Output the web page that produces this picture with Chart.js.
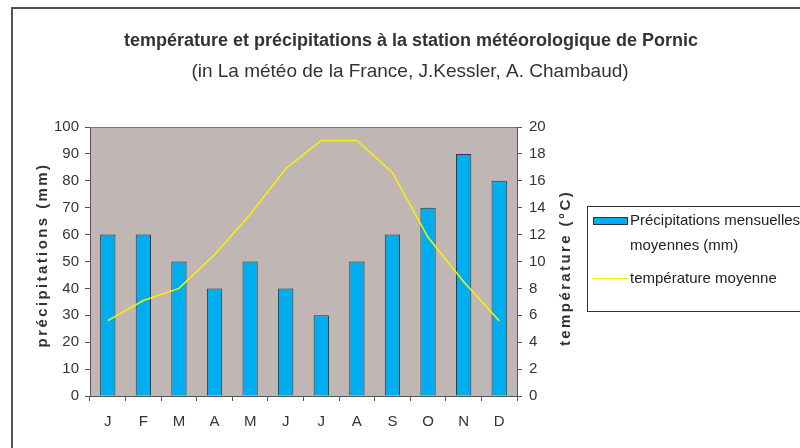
<!DOCTYPE html>
<html>
<head>
<meta charset="utf-8">
<script src="https://cdn.jsdelivr.net/npm/chart.js@4.4.0/dist/chart.umd.min.js"></script>
<style>
  body { margin: 0; background: #fff; }
  #wrap { position: relative; width: 800px; height: 448px; }
  #legend {
    position: absolute; left: 587px; top: 206px; width: 230px; height: 106px;
    border: 1px solid #333; box-sizing: border-box;
    font-family: "Liberation Sans Narrow", "Liberation Sans", Arial, sans-serif;
    font-size: 15px; color: #222;
  }
  .row { position: absolute; left: 42px; line-height: 24px; }
  .swatch { position: absolute; }
</style>
</head>
<body>
<div id="wrap">
  <canvas id="myChart" width="800" height="448"></canvas>
  <div id="legend">
    <div class="swatch" style="left:5px;top:10px;width:33px;height:6px;background:#00aeef;border:1px solid #333;"></div>
    <div class="row" style="top:1px;">Précipitations mensuelles</div>
    <div class="row" style="top:26px;">moyennes (mm)</div>
    <div class="swatch" style="left:5px;top:71px;width:35px;height:1px;background:#ffee00;"></div>
    <div class="row" style="top:59px;">température moyenne</div>
  </div>
</div>
<script>
var mois = ['J', 'F', 'M', 'A', 'M', 'J', 'J', 'A', 'S', 'O', 'N', 'D'];
var precip = [60, 60, 50, 40, 50, 40, 30, 50, 60, 70, 90, 80];//mm
var temp = [5.6, 7.1, 8.0, 10.5, 13.5, 16.9, 19.0, 19.0, 16.6, 11.8, 8.5, 5.6];//°C
var titre = 'température et précipitations à la station météorologique de Pornic';
var sousTitre = '(in La météo de la France, J.Kessler, A. Chambaud)';
var titreGauche = 'précipitations (mm)';
var titreDroite = 'température (°C)';

var police = '"Liberation Sans Narrow", "Liberation Sans", Arial, sans-serif';

function texteVertical(ctx, txt, x, y) {//texte tourné de -90°, espacé
    ctx.save();
    ctx.translate(x, y);
    ctx.rotate(-Math.PI / 2);
    ctx.letterSpacing = '2.4px';
    ctx.fillText(txt, 1, 0);
    ctx.restore();
}

var cadre = {//fond gris + cadre + titres
    id: 'cadre',
    beforeDraw: function(chart) {
        var ctx = chart.ctx;
        var a = chart.chartArea;
        ctx.save();
        ctx.fillStyle = '#c0b6b3';
        ctx.fillRect(a.left, a.top, a.right - a.left, a.bottom - a.top);
        ctx.strokeStyle = '#555';
        ctx.lineWidth = 2;
        ctx.beginPath();
        ctx.moveTo(12, 448);
        ctx.lineTo(12, 8);
        ctx.lineTo(800, 8);
        ctx.stroke();
        ctx.fillStyle = '#333';
        ctx.textAlign = 'center';
        ctx.textBaseline = 'middle';
        ctx.font = 'bold 18px ' + police;
        ctx.fillText(titre, 411, 41);
        ctx.font = '19px ' + police;
        ctx.fillText(sousTitre, 410, 72);
        ctx.font = 'bold 15px ' + police;
        texteVertical(ctx, titreGauche, 43, 256);
        texteVertical(ctx, titreDroite, 566, 269);
        ctx.restore();
    },
    afterDraw: function(chart) {
        var ctx = chart.ctx;
        var a = chart.chartArea;
        ctx.save();
        ctx.strokeStyle = '#777';
        ctx.lineWidth = 1;
        ctx.beginPath();
        ctx.moveTo(a.left, a.top + 0.5);
        ctx.lineTo(a.right, a.top + 0.5);
        ctx.stroke();
        ctx.restore();
    }
};

var ctx = document.getElementById('myChart').getContext('2d');
var myChart = new Chart(ctx, {
    type: 'bar',
    data: {
        labels: mois,
        datasets: [{
            type: 'line',
            label: 'température moyenne',
            data: temp,
            yAxisID: 'y2',
            borderColor: '#ffee00',
            borderWidth: 1.5,
            pointRadius: 0,
            tension: 0,
            fill: false
        }, {
            label: 'Précipitations mensuelles moyennes (mm)',
            data: precip,
            yAxisID: 'y',
            backgroundColor: '#00aeef',
            borderColor: '#333',
            borderWidth: 1,
            barPercentage: 0.43,
            categoryPercentage: 1
        }]
    },
    options: {
        responsive: false,
        animation: false,
        layout: {
            padding: { top: 127, left: 26, right: 220, bottom: 10 }
        },
        plugins: {
            legend: { display: false },
            tooltip: { enabled: false }
        },
        scales: {
            x: {
                offset: true,
                grid: {
                    display: true,
                    drawOnChartArea: false,
                    offset: true,
                    color: '#555',
                    tickLength: 5
                },
                border: { color: '#555' },
                ticks: { color: '#333', font: { family: police, size: 15 }, padding: 12 },
                afterFit: function(s) { s.height = 42; }
            },
            y: {
                position: 'left',
                min: 0,
                max: 100,
                grid: { drawOnChartArea: false, color: '#555', tickLength: 5 },
                border: { color: '#555' },
                ticks: { stepSize: 10, color: '#333', font: { family: police, size: 15 }, padding: 6 },
                afterFit: function(s) { s.width = 64; }
            },
            y2: {
                position: 'right',
                min: 0,
                max: 20,
                grid: { drawOnChartArea: false, color: '#555', tickLength: 5 },
                border: { color: '#555' },
                ticks: { stepSize: 2, color: '#333', font: { family: police, size: 15 }, padding: 7 },
                afterFit: function(s) { s.width = 63; }
            }
        }
    },
    plugins: [cadre]
});
</script>
</body>
</html>
